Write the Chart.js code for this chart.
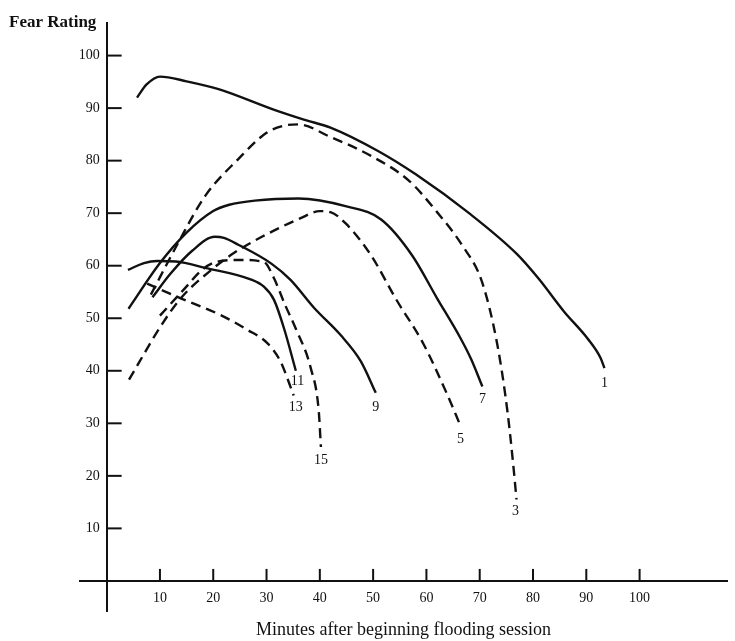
<!DOCTYPE html>
<html>
<head>
<meta charset="utf-8">
<script src="https://cdn.jsdelivr.net/npm/chart.js@4.4.1/dist/chart.umd.min.js"></script>
<style>
  html, body { margin: 0; padding: 0; background: #fff; }
  #wrap { width: 735px; height: 641px; }
</style>
</head>
<body>
<div id="wrap"><canvas id="fear"></canvas></div>
<script>
// tick labels
const xTickValues = [10, 20, 30, 40, 50, 60, 70, 80, 90, 100];
const yTickValues = [10, 20, 30, 40, 50, 60, 70, 80, 90, 100];

// curve numbers and the point where each number sits
const curveNames = ['1', '3', '5', '7', '9', '11', '13', '15'];
const nameX = [93.4, 76.7, 66.4, 70.5, 50.5, 35.8, 35.5, 40.2];
const nameY = [37.6, 13.3, 27.0, 34.5, 33.0, 38.0, 33.0, 23.0];
const curveDashed = [false, true, true, false, false, false, true, true];

// minutes / fear rating
const curve1X = [5.7, 7.5, 10, 15, 21, 31.6, 37, 42, 51, 58, 68, 77, 81, 85.8, 90.2, 92.7, 93.4];
const curve1Y = [92, 94.5, 96, 95.1, 93.6, 89.6, 87.8, 86.3, 81.8, 77.4, 70, 62.2, 57.6, 51.3, 46.2, 42.4, 40.5];

const curve3X = [8.3, 13.5, 18.5, 24.7, 30, 33, 36, 41.8, 49.6, 56.6, 62, 66.7, 70.4, 73.3, 75.2, 76.4, 76.9];
const curve3Y = [54.5, 64.5, 73.3, 80.3, 85.3, 86.6, 86.9, 84.6, 80.9, 76.3, 70.2, 63.9, 57, 45, 32.3, 21, 15.5];

const curve5X = [4.2, 10.1, 13.9, 20, 24, 29.3, 36.3, 40, 42, 44.9, 49.6, 54.2, 59.5, 63.9, 66.4];
const curve5Y = [38.3, 48.4, 53.8, 59.5, 62.5, 65.6, 69, 70.4, 70.2, 68, 62, 53.8, 45, 35.5, 29.5];

const curve7X = [4.1, 10, 15, 20, 23, 27.8, 36, 45, 51.5, 57.3, 62, 66.4, 68.4, 70.5];
const curve7Y = [51.8, 60.5, 66.3, 70.4, 71.6, 72.4, 72.8, 71.3, 68.8, 62, 53.8, 46.2, 42.2, 37];

const curve9X = [8.6, 12, 16, 20.3, 22, 24.7, 30.9, 34.5, 38.9, 43.9, 47.7, 50.5];
const curve9Y = [54, 58.5, 62.8, 65.5, 65.3, 64, 60.4, 57.3, 52, 46.8, 41.8, 35.8];

const curve11X = [4, 7, 9.5, 13, 18.5, 27, 29.5, 31.4, 33.3, 35.5];
const curve11Y = [59.2, 60.5, 60.9, 60.8, 59.6, 57.4, 56, 53.5, 48, 40];

const curve13X = [7.6, 13.9, 21.4, 26.4, 30.1, 32.6, 35.1];
const curve13Y = [56.6, 53.8, 50.6, 47.8, 45.3, 41.8, 35.3];

const curve15X = [10, 14.5, 18, 20.5, 25, 29.5, 31.4, 33.5, 35.5, 38.3, 39.8, 40.2];
const curve15Y = [50.5, 55.5, 59.3, 60.7, 61.1, 60.7, 57.6, 52.5, 48, 40.5, 32.3, 25.5];

const curveXs = [curve1X, curve3X, curve5X, curve7X, curve9X, curve11X, curve13X, curve15X];
const curveYs = [curve1Y, curve3Y, curve5Y, curve7Y, curve9Y, curve11Y, curve13Y, curve15Y];

const serif = "'Liberation Serif', 'DejaVu Serif', serif";
const ink = '#111';

const datasets = curveNames.map((name, i) => ({
    label: 'Curve ' + name,
    data: curveXs[i].map((x, j) => ({ x: x, y: curveYs[i][j] })),
    borderColor: ink,
    borderWidth: 2.4,
    borderDash: curveDashed[i] ? [10, 6] : [],
    pointRadius: 0,
    fill: false,
    cubicInterpolationMode: 'monotone'
}));

// inner tick marks, curve numbers and the y axis title
const paperMarks = {
    id: 'paperMarks',
    afterDraw(chart) {
        const ctx = chart.ctx;
        const xs = chart.scales.x;
        const ys = chart.scales.y;
        const x0 = xs.getPixelForValue(0);
        const y0 = ys.getPixelForValue(0);
        ctx.save();
        ctx.strokeStyle = ink;
        ctx.lineWidth = 2;
        xTickValues.forEach(v => {
            const px = xs.getPixelForValue(v);
            ctx.beginPath();
            ctx.moveTo(px, y0);
            ctx.lineTo(px, y0 - 12);
            ctx.stroke();
        });
        yTickValues.forEach(v => {
            const py = ys.getPixelForValue(v);
            ctx.beginPath();
            ctx.moveTo(x0, py);
            ctx.lineTo(x0 + 15, py);
            ctx.stroke();
        });
        ctx.fillStyle = ink;
        ctx.font = '14px ' + serif;
        ctx.textAlign = 'center';
        ctx.textBaseline = 'middle';
        curveNames.forEach((name, i) => {
            ctx.fillText(name, xs.getPixelForValue(nameX[i]), ys.getPixelForValue(nameY[i]));
        });
        ctx.font = 'bold 17px ' + serif;
        ctx.textAlign = 'left';
        ctx.textBaseline = 'alphabetic';
        ctx.fillText('Fear Rating', 9, 27);
        ctx.restore();
    }
};

new Chart(document.getElementById('fear'), {
    type: 'line',
    data: { datasets: datasets },
    options: {
        responsive: true,
        maintainAspectRatio: false,
        animation: false,
        layout: { padding: { top: 23, left: 80, right: 8, bottom: 0 } },
        plugins: {
            legend: { display: false },
            tooltip: { enabled: false },
            title: {
                display: true,
                position: 'bottom',
                text: 'Minutes after beginning flooding session',
                color: ink,
                font: { family: serif, size: 18, weight: 'normal' },
                padding: { top: 8, bottom: 0 }
            }
        },
        scales: {
            x: {
                type: 'linear',
                axis: 'x',
                position: { y: 0 },
                min: -5,
                max: 116.4,
                afterBuildTicks: s => { s.ticks = xTickValues.map(v => ({ value: v })); },
                grid: { display: true, drawOnChartArea: false, drawTicks: false },
                border: { display: true, color: ink, width: 2 },
                ticks: { color: ink, padding: 9, maxRotation: 0, autoSkip: false, font: { family: serif, size: 14 } }
            },
            y: {
                type: 'linear',
                axis: 'y',
                position: { x: 0 },
                min: -5.8,
                max: 106.2,
                afterBuildTicks: s => { s.ticks = yTickValues.map(v => ({ value: v })); },
                grid: { display: true, drawOnChartArea: false, drawTicks: false },
                border: { display: true, color: ink, width: 2 },
                // a positioned axis ignores padding, so a trailing space keeps labels off the line
                ticks: { color: ink, autoSkip: false, callback: v => v + '  ', font: { family: serif, size: 14 } }
            }
        }
    },
    plugins: [paperMarks]
});
</script>
</body>
</html>
